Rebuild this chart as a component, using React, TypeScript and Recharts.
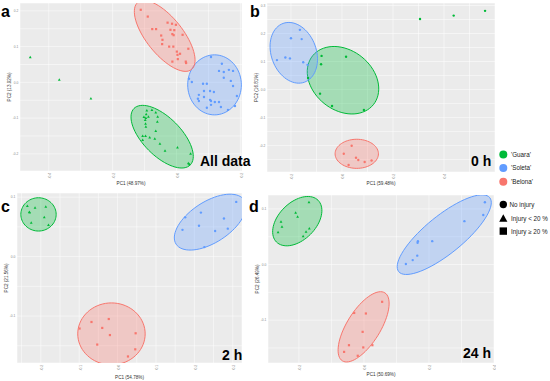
import React from 'react';
import { ScatterChart, Scatter, XAxis, YAxis, CartesianGrid } from 'recharts';

type Pt = [number, number];
type Ell = { cultivar: string; x: number; y: number; ax: number; ay: number; bx: number; by: number };

const cultivars = ['Guara', 'Soleta', 'Belona'];
const injuryClasses = ['No injury', 'Injury < 20 %', 'Injury \u2265 20 %'];
const colors: Record<string, string> = { Guara: '#00BA38', Soleta: '#619CFF', Belona: '#F8766D' };
const pointShape: Record<string, string> = { Guara: 'triangle', Soleta: 'circle', Belona: 'square' };

// a: all data
const allGuara: Pt[] = [
  [-0.458, 0.07], [-0.367, 0.007], [-0.268, -0.045],
  [-0.093, -0.079], [-0.077, -0.077], [-0.065, -0.084], [-0.095, -0.089], [-0.102, -0.097],
  [-0.096, -0.1], [-0.059, -0.096], [-0.098, -0.105], [-0.06, -0.11], [-0.097, -0.116],
  [-0.096, -0.124], [-0.065, -0.136], [-0.106, -0.15], [-0.097, -0.15], [-0.084, -0.154],
  [-0.106, -0.161], [-0.068, -0.158], [-0.052, -0.172], [-0.036, -0.191], [0.003, -0.182],
  [0.044, -0.2], [0.037, -0.226], [0.04, -0.229], [-0.088, -0.096],
];
const allSoleta: Pt[] = [
  [0.108, 0.071], [0.133, 0.032], [0.148, 0.029], [0.164, 0.035], [0.177, 0.032], [0.142, 0.052],
  [0.148, 0.013], [0.039, 0.01], [0.048, 0.001], [0.083, -0.004], [0.095, -0.004], [0.105, -0.024],
  [0.086, -0.024], [0.07, -0.035], [0.067, -0.046], [0.07, -0.052], [0.086, -0.041], [0.105, -0.049],
  [0.108, -0.052], [0.12, -0.055], [0.133, -0.055], [0.108, -0.063], [0.095, -0.071], [0.139, -0.069],
  [0.161, -0.077], [0.183, -0.066], [0.189, -0.038], [0.177, -0.01], [0.17, 0.004], [0.117, -0.027],
];
const allBelona: Pt[] = [
  [-0.112, 0.203], [-0.09, 0.184], [-0.076, 0.149], [-0.064, 0.149], [-0.028, 0.167], [-0.014, 0.164],
  [-0.002, 0.161], [-0.019, 0.147], [-0.007, 0.146], [-0.013, 0.135], [-0.009, 0.132], [0.019, 0.133],
  [-0.048, 0.131], [-0.044, 0.119], [-0.045, 0.107], [-0.023, 0.1], [-0.01, 0.1], [0.037, 0.094],
  [0.001, 0.086], [0.011, 0.08], [0.003, 0.077], [-0.013, 0.058], [0.004, 0.065], [0.029, 0.058],
  [0.03, 0.054],
];
const allEllipses: Ell[] = [
  { cultivar: 'Guara', x: -0.045, y: -0.152, ax: 0.088, ay: -0.079, bx: 0.042, by: 0.038 },
  { cultivar: 'Soleta', x: 0.119, y: -0.007, ax: 0, ay: 0.084, bx: 0.084, by: 0 },
  { cultivar: 'Belona', x: -0.037, y: 0.13, ax: 0.084, ay: -0.094, bx: 0.0445, by: 0.032 },
];

// b: 0 h
const h0Guara: Pt[] = [
  [-0.133, 0.041], [-0.08, 0.12], [0.016, 0.117], [-0.082, 0.09], [-0.086, -0.015],
  [-0.039, -0.059], [0.086, -0.073], [0.306, 0.252], [0.438, 0.264], [0.561, 0.281],
];
const h0Soleta: Pt[] = [
  [-0.165, 0.213], [-0.2, 0.183], [-0.158, 0.18], [-0.222, 0.114], [-0.204, 0.111],
  [-0.255, 0.105], [-0.152, 0.097], [-0.135, 0.088],
];
const h0Belona: Pt[] = [
  [0.038, -0.201], [0.007, -0.23], [0.055, -0.244], [0.064, -0.252], [0.089, -0.259],
  [0.116, -0.254], [0.026, -0.27],
];
const h0Ellipses: Ell[] = [
  { cultivar: 'Guara', x: 0.004, y: 0.033, ax: 0.119, ay: -0.0875, bx: 0.074, by: 0.083 },
  { cultivar: 'Soleta', x: -0.189, y: 0.131, ax: 0.042, ay: -0.105, bx: 0.083, by: 0.0275 },
  { cultivar: 'Belona', x: 0.058, y: -0.23, ax: 0.085, ay: 0, bx: 0, by: 0.052 },
];

// c: 2 h
const h2Guara: Pt[] = [
  [-0.235, 0.085], [-0.215, 0.082], [-0.187, 0.084], [-0.23, 0.075], [-0.229, 0.074],
  [-0.191, 0.066], [-0.225, 0.057], [-0.18, 0.053],
];
const h2Soleta: Pt[] = [
  [0.309, 0.092], [0.217, 0.074], [0.176, 0.066], [0.277, 0.064], [0.212, 0.052],
  [0.287, 0.047], [0.169, 0.045], [0.254, 0.043], [0.226, 0.016],
];
const h2Belona: Pt[] = [
  [-0.023, -0.105], [-0.068, -0.11], [-0.099, -0.121], [-0.04, -0.12], [-0.02, -0.132],
  [0.047, -0.129], [-0.053, -0.148], [0.046, -0.156], [0.027, -0.168],
];
const h2Ellipses: Ell[] = [
  { cultivar: 'Guara', x: -0.206, y: 0.071, ax: 0.046, ay: 0, bx: 0, by: 0.028 },
  { cultivar: 'Soleta', x: 0.241, y: 0.058, ax: 0.0886, ay: 0.0371, bx: 0.0291, by: -0.0289 },
  { cultivar: 'Belona', x: -0.016, y: -0.13, ax: 0.0878, ay: 0, bx: 0, by: 0.0521 },
];

// d: 24 h
const h24Guara: Pt[] = [
  [-0.169, 0.112], [-0.21, 0.093], [-0.204, 0.086], [-0.255, 0.077], [-0.252, 0.068],
  [-0.168, 0.065], [-0.178, 0.059], [-0.264, 0.058], [-0.187, 0.051],
];
const h24Soleta: Pt[] = [
  [0.372, 0.112], [0.367, 0.089], [0.309, 0.078], [0.21, 0.042], [0.166, 0.042],
  [0.165, 0.039], [0.164, 0.016], [0.15, 0.008], [0.129, 0.001],
];
const h24Belona: Pt[] = [
  [0.056, -0.067], [-0.03, -0.087], [0.006, -0.088], [-0.004, -0.121], [-0.046, -0.145],
  [0.026, -0.145], [-0.002, -0.149], [-0.061, -0.157], [-0.019, -0.164],
];
const h24Ellipses: Ell[] = [
  { cultivar: 'Guara', x: -0.205, y: 0.078, ax: 0.064, ay: 0.0375, bx: 0.0405, by: -0.0237 },
  { cultivar: 'Soleta', x: 0.247, y: 0.0537, ax: 0.14, ay: 0.0665, bx: 0.0366, by: -0.0265 },
  { cultivar: 'Belona', x: -0.001, y: -0.112, ax: 0.0654, ay: 0.0611, bx: 0.0434, by: -0.016 },
];

// axis ticks (major get labels, minor only grid lines)
const allXMajor = [-0.4, -0.2, 0, 0.2];
const allXMinor = [-0.3, -0.1, 0.1];
const allYMajor = [-0.2, -0.1, 0, 0.1, 0.2];
const allYMinor = [-0.15, -0.05, 0.05, 0.15];
const h0XMajor = [-0.2, 0, 0.2, 0.4];
const h0XMinor = [-0.1, 0.1, 0.3, 0.5];
const h0YMajor = [-0.2, -0.1, 0, 0.1, 0.2, 0.3];
const h0YMinor = [-0.25, -0.15, -0.05, 0.05, 0.15, 0.25];
const h2XMajor = [-0.2, -0.1, 0, 0.1, 0.2, 0.3];
const h2XMinor = [-0.25, -0.15, -0.05, 0.05, 0.15, 0.25];
const h2YMajor = [-0.1, 0, 0.1];
const h2YMinor = [-0.15, -0.05, 0.05];
const h24XMajor = [-0.2, 0, 0.2, 0.4];
const h24XMinor = [-0.1, 0.1, 0.3];
const h24YMajor = [-0.1, 0, 0.1];
const h24YMinor = [-0.15, -0.05, 0.05];

const FONT = "'Liberation Sans', Arial, sans-serif";

// small ggplot-like point marks
const makeDot = (color: string, kind: string) => (props: any) => {
  const { cx, cy } = props;
  if (kind === 'triangle') {
    return <path d={`M${cx},${cy - 1.5}L${cx + 1.4},${cy + 1}L${cx - 1.4},${cy + 1}Z`} fill={color} />;
  }
  if (kind === 'square') {
    return <rect x={cx - 1.1} y={cy - 1.1} width={2.2} height={2.2} fill={color} />;
  }
  return <circle cx={cx} cy={cy} r={1.2} fill={color} />;
};

interface PanelProps {
  left: number; top: number; width: number; height: number;
  marginTop: number; yAxisWidth: number; xAxisHeight: number;
  xDomain: [number, number]; yDomain: [number, number];
  xMajor: number[]; xMinor: number[]; yMajor: number[]; yMinor: number[];
  xTitle: string; yTitle: string; xTitleOffset: number; yTitleDx: number;
  points: Record<string, Pt[]>;
  ellipses: Ell[];
  shapes: boolean;
}

const Panel = (p: PanelProps) => {
  const right = 2;
  const kx = (p.width - right - p.yAxisWidth) / (p.xDomain[1] - p.xDomain[0]);
  const ky = (p.height - p.marginTop - p.xAxisHeight) / (p.yDomain[1] - p.yDomain[0]);

  const drawEllipse = (props: any) => {
    const { cx, cy, payload } = props;
    const c = colors[payload.cultivar];
    let d = '';
    for (let i = 0; i <= 72; i++) {
      const t = (i / 72) * Math.PI * 2;
      const px = cx + kx * (payload.ax * Math.cos(t) + payload.bx * Math.sin(t));
      const py = cy - ky * (payload.ay * Math.cos(t) + payload.by * Math.sin(t));
      d += (i ? 'L' : 'M') + px.toFixed(2) + ',' + py.toFixed(2);
    }
    return <path d={d + 'Z'} fill={c} fillOpacity={0.3} stroke={c} strokeWidth={1} />;
  };

  const fmt = (major: number[]) => (v: number) =>
    major.some((m) => Math.abs(m - v) < 1e-9) ? v.toFixed(1) : '';

  const xTicks = [...p.xMajor, ...p.xMinor].sort((a, b) => a - b);
  const yTicks = [...p.yMajor, ...p.yMinor].sort((a, b) => a - b);

  return (
    <div style={{ position: 'absolute', left: p.left, top: p.top }}>
      <ScatterChart width={p.width} height={p.height} margin={{ top: p.marginTop, right, bottom: 0, left: 0 }}>
        <CartesianGrid fill="#EBEBEB" stroke="#FFFFFF" strokeWidth={0.5} />
        <XAxis
          type="number" dataKey="x" domain={p.xDomain} allowDataOverflow ticks={xTicks} interval={0}
          tickFormatter={fmt(p.xMajor)} height={p.xAxisHeight} axisLine={false} tickLine={false}
          tickSize={1} tickMargin={1}
          tick={{ fontSize: 3.3, fill: '#8a8a8a', angle: -90, textAnchor: 'end', verticalAnchor: 'middle', fontFamily: FONT }}
          label={{ value: p.xTitle, position: 'insideBottom', offset: p.xTitleOffset, fontSize: 4.6, fill: '#333', fontFamily: FONT }}
        />
        <YAxis
          type="number" dataKey="y" domain={p.yDomain} allowDataOverflow ticks={yTicks} interval={0}
          tickFormatter={fmt(p.yMajor)} width={p.yAxisWidth} axisLine={false} tickLine={false}
          tickSize={1} tickMargin={0.6}
          tick={{ fontSize: 3.3, fill: '#8a8a8a', fontFamily: FONT }}
          label={{ value: p.yTitle, angle: -90, position: 'center', dx: p.yTitleDx, fontSize: 4.6, fill: '#333', fontFamily: FONT }}
        />
        <Scatter data={p.ellipses} shape={drawEllipse} isAnimationActive={false} />
        {cultivars.map((c) => (
          <Scatter
            key={c}
            data={p.points[c].map(([x, y]) => ({ x, y }))}
            fill={colors[c]}
            shape={makeDot(colors[c], p.shapes ? pointShape[c] : 'circle')}
            isAnimationActive={false}
          />
        ))}
      </ScatterChart>
    </div>
  );
};

const Overlay = () => (
  <svg width={550} height={381} style={{ position: 'absolute', left: 0, top: 0, pointerEvents: 'none' }}>
    <g fontFamily={FONT} fontWeight="bold" fontSize={16} fill="#000">
      <text x={1} y={17}>a</text>
      <text x={250} y={17}>b</text>
      <text x={1} y={212}>c</text>
      <text x={249} y={212}>d</text>
    </g>
    <g fontFamily={FONT} fontWeight="bold" fontSize={14} fill="#000">
      <text x={200} y={166}>All data</text>
      <text x={471} y={166}>0 h</text>
      <text x={222} y={360}>2 h</text>
      <text x={463} y={358}>24 h</text>
    </g>
    <g fontFamily={FONT} fontSize={6.3} fill="#1a1a1a">
      {cultivars.map((c, i) => (
        <g key={c}>
          <circle cx={503.3} cy={154.5 + i * 13.6} r={4} fill={colors[c]} />
          <text x={511} y={156.7 + i * 13.6}>{`'${c}'`}</text>
        </g>
      ))}
      <circle cx={503.3} cy={204.5} r={3.7} fill="#000" />
      <path d="M503.3,214.3 L507.4,221.8 L499.2,221.8 Z" fill="#000" />
      <rect x={499.6} y={227.4} width={7.4} height={7.4} fill="#000" />
      <text x={509.5} y={206.7}>{injuryClasses[0]}</text>
      <text x={511} y={220.5}>{injuryClasses[1]}</text>
      <text x={511} y={233.5}>{injuryClasses[2]}</text>
    </g>
  </svg>
);

export default function App() {
  return (
    <div style={{ position: 'relative', width: 550, height: 381, background: '#fff', fontFamily: FONT }}>
      <style>{'body{margin:0}'}</style>
      <Panel
        left={0} top={0} width={244} height={190} marginTop={3} yAxisWidth={20} xAxisHeight={19}
        xDomain={[-0.49, 0.205]} yDomain={[-0.248, 0.222]}
        xMajor={allXMajor} xMinor={allXMinor} yMajor={allYMajor} yMinor={allYMinor}
        xTitle="PC1 (48.97%)" yTitle="PC2 (13.92%)" xTitleOffset={5.3} yTitleDx={-1}
        points={{ Guara: allGuara, Soleta: allSoleta, Belona: allBelona }}
        ellipses={allEllipses} shapes
      />
      <Panel
        left={246} top={0} width={251} height={190} marginTop={3} yAxisWidth={21} xAxisHeight={18}
        xDomain={[-0.294, 0.6]} yDomain={[-0.295, 0.309]}
        xMajor={h0XMajor} xMinor={h0XMinor} yMajor={h0YMajor} yMinor={h0YMinor}
        xTitle="PC1 (59.48%)" yTitle="PC2 (16.81%)" xTitleOffset={5.3} yTitleDx={0}
        points={{ Guara: h0Guara, Soleta: h0Soleta, Belona: h0Belona }}
        ellipses={h0Ellipses} shapes={false}
      />
      <Panel
        left={0} top={190} width={244} height={191} marginTop={3} yAxisWidth={17} xAxisHeight={18}
        xDomain={[-0.262, 0.324]} yDomain={[-0.179, 0.107]}
        xMajor={h2XMajor} xMinor={h2XMinor} yMajor={h2YMajor} yMinor={h2YMinor}
        xTitle="PC1 (54.78%)" yTitle="PC2 (21.56%)" xTitleOffset={2.4} yTitleDx={-2.5}
        points={{ Guara: h2Guara, Soleta: h2Soleta, Belona: h2Belona }}
        ellipses={h2Ellipses} shapes
      />
      <Panel
        left={246} top={190} width={250} height={191} marginTop={5} yAxisWidth={22} xAxisHeight={18}
        xDomain={[-0.295, 0.4]} yDomain={[-0.177, 0.125]}
        xMajor={h24XMajor} xMinor={h24XMinor} yMajor={h24YMajor} yMinor={h24YMinor}
        xTitle="PC1 (50.69%)" yTitle="PC2 (26.49%)" xTitleOffset={5.4} yTitleDx={0}
        points={{ Guara: h24Guara, Soleta: h24Soleta, Belona: h24Belona }}
        ellipses={h24Ellipses} shapes
      />
      <Overlay />
    </div>
  );
}
